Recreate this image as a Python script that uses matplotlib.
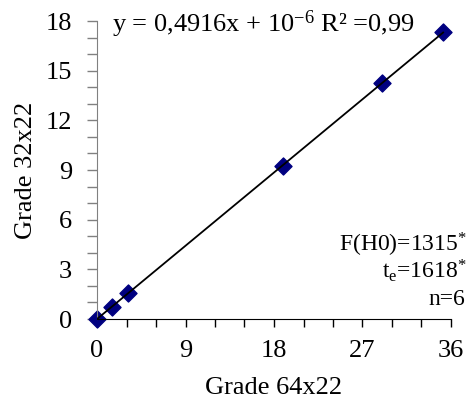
import matplotlib
matplotlib.use("Agg")
import matplotlib.pyplot as plt
import numpy as np

x_vals = [0.0, 1.5, 3.2, 18.9, 29.0, 35.2]
y_vals = [0.0, 0.72, 1.6, 9.26, 14.28, 17.34]
slope = 0.4916
intercept = 1e-6
x_ticks = [0, 9, 18, 27, 36]
y_ticks = [0, 3, 6, 9, 12, 15, 18]

plt.rcParams['font.family'] = ['Liberation Serif', 'DejaVu Serif']
plt.rcParams['mathtext.fontset'] = 'custom'
plt.rcParams['mathtext.rm'] = 'Liberation Serif'
plt.rcParams['mathtext.it'] = 'Liberation Serif:italic'

fig = plt.figure(figsize=(4.68, 4.03), dpi=100)
ax = fig.add_axes([97/468, 1-319/403, (451-97)/468, (319-21)/403])

ax.scatter(x_vals, y_vals, marker='D', s=75, color='#000080', zorder=2, clip_on=False)
xl = np.array([min(x_vals), max(x_vals)])
ax.plot(xl, slope*xl + intercept, color='black', lw=1.3, zorder=3)

ax.set_xlim(0, 36)
ax.set_ylim(0, 18)
ax.set_xticks(x_ticks)
ax.set_yticks(y_ticks)
ax.set_xticks(np.arange(0, 37, 3), minor=True)
ax.set_yticks(np.arange(0, 19, 1), minor=True)
ax.tick_params(axis='both', labelsize=19, direction='out')
ax.tick_params(axis='x', which='major', length=6, width=1, color='black', pad=9)
ax.tick_params(axis='x', which='minor', length=6, width=1, color='black')
ax.tick_params(axis='y', which='major', length=7, width=1, color='#808080', pad=11)
ax.tick_params(axis='y', which='minor', length=7, width=1, color='#808080')
for s in ['top', 'right']:
    ax.spines[s].set_visible(False)
ax.spines['left'].set_color('#808080')
ax.spines['bottom'].set_color('black')

ax.set_xlabel('Grade 64x22', fontsize=19, labelpad=11)
ax.set_ylabel('Grade 32x22', fontsize=19, labelpad=6)

ax.text(112/468, 1-32/403, r'y = 0,4916x + 10$^{\mathregular{-6}}$ R² =0,99',
        transform=fig.transFigure, fontsize=19, va='baseline', ha='left')
ax.text(467/468, 1-252/403, r'F(H0)=1315$^{\mathregular{*}}$', transform=fig.transFigure,
        fontsize=17, ha='right', va='baseline')
ax.text(467/468, 1-278/403, r't$_{\mathregular{e}}$=1618$^{\mathregular{*}}$', transform=fig.transFigure,
        fontsize=17, ha='right', va='baseline')
ax.text(465/468, 1-305/403, 'n=6', transform=fig.transFigure,
        fontsize=17, ha='right', va='baseline')

fig.savefig('out.png', dpi=100)
